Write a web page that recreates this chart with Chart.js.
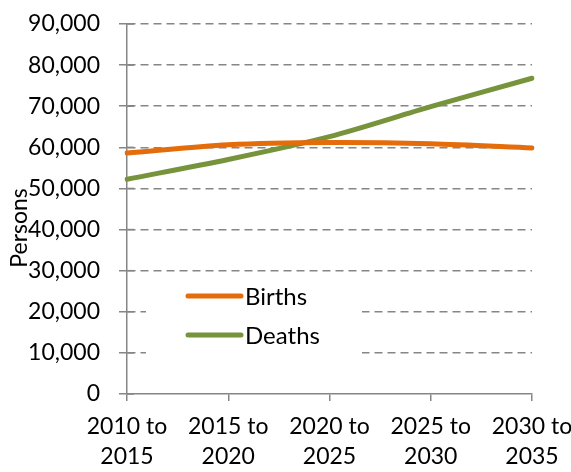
<!DOCTYPE html>
<html>
<head>
<meta charset="utf-8">
<script src="https://cdn.jsdelivr.net/npm/chart.js@4.4.1/dist/chart.umd.min.js"></script>
<style>
  html, body { margin: 0; padding: 0; background: #fff; }
  #wrap { width: 571px; height: 472px; }
</style>
</head>
<body>
<div id="wrap"><canvas id="chart" width="571" height="472"></canvas></div>
<script>
var periods = [['2010 to', '2015'], ['2015 to', '2020'], ['2020 to', '2025'], ['2025 to', '2030'], ['2030 to', '2035']];
var births = [58600, 60600, 61150, 60850, 59850];
var deaths = [52250, 57050, 62600, 69900, 76800];
var yTicks = [0, 10000, 20000, 30000, 40000, 50000, 60000, 70000, 80000, 90000];

var FONT = 'Lato, "Open Sans", sans-serif';
var GREY = '#868686';

// legend sits inside the plot, on a white patch that hides the grid
var insideLegend = {
  id: 'insideLegend',
  beforeDatasetsDraw: function(chart) {
    var ctx = chart.ctx;
    var y0 = chart.scales.y;
    ctx.save();
    ctx.fillStyle = '#fff';
    ctx.fillRect(146, 277, 216, 82);
    // short right half of the crossing y ticks
    ctx.strokeStyle = GREY;
    ctx.lineWidth = 1.5;
    yTicks.forEach(function(v) {
      var py = y0.getPixelForValue(v);
      ctx.beginPath();
      ctx.moveTo(chart.chartArea.left, py);
      ctx.lineTo(chart.chartArea.left + 7, py);
      ctx.stroke();
    });
    chart.data.datasets.forEach(function(ds, i) {
      var y = 296 + i * 39;
      ctx.strokeStyle = ds.borderColor;
      ctx.lineWidth = 5;
      ctx.lineCap = 'round';
      ctx.beginPath();
      ctx.moveTo(188, y);
      ctx.lineTo(241, y);
      ctx.stroke();
      ctx.fillStyle = '#000';
      ctx.font = '24px ' + FONT;
      ctx.textBaseline = 'middle';
      ctx.textAlign = 'left';
      ctx.fillText(ds.label, 245, y + 1);
    });
    ctx.restore();
  },
  afterDraw: function(chart) {
    // axis title, placed a little below centre
    var ctx = chart.ctx;
    ctx.save();
    ctx.translate(27, 228);
    ctx.rotate(-Math.PI / 2);
    ctx.fillStyle = '#000';
    ctx.font = '23px ' + FONT;
    ctx.textAlign = 'center';
    ctx.textBaseline = 'alphabetic';
    ctx.fillText('Persons', 0, 0);
    ctx.restore();
  }
};

var chart = new Chart(document.getElementById('chart'), {
  type: 'line',
  data: {
    labels: periods,
    datasets: [{
      label: 'Births',
      data: births,
      borderColor: '#E46C0A',
      backgroundColor: '#E46C0A',
      borderWidth: 5,
      pointRadius: 0,
      tension: 0.3,
      borderCapStyle: 'round'
    }, {
      label: 'Deaths',
      data: deaths,
      borderColor: '#77933C',
      backgroundColor: '#77933C',
      borderWidth: 5,
      pointRadius: 0,
      tension: 0.3,
      borderCapStyle: 'round'
    }]
  },
  options: {
    responsive: false,
    animation: false,
    layout: { padding: { top: 24, right: 39, left: 0, bottom: 0 } },
    plugins: {
      legend: { display: false },
      tooltip: { enabled: false }
    },
    scales: {
      x: {
        offset: false,
        grid: { drawOnChartArea: false, drawTicks: true, tickLength: 7, color: GREY, lineWidth: 1.5 },
        border: { color: GREY, width: 1.5 },
        ticks: {
          color: '#000',
          font: { family: FONT, size: 23, lineHeight: 1.3 },
          padding: 11,
          maxRotation: 0,
          autoSkip: false
        },
        afterFit: function(scale) {
          scale.height = 78;
          scale.paddingLeft = 0;
          scale.paddingRight = 0;
        }
      },
      y: {
        min: 0,
        max: 90000,
        afterBuildTicks: function(scale) {
          scale.ticks = yTicks.map(function(v) { return { value: v }; });
        },
        grid: {
          color: function(c) { return c.tick && c.tick.value === 0 ? 'rgba(0,0,0,0)' : GREY; },
          lineWidth: 1.5,
          tickLength: 8,
          tickColor: GREY,
          tickBorderDash: [1, 0]
        },
        border: { color: GREY, width: 1.5, dash: [8, 5] },
        ticks: {
          color: '#000',
          font: { family: FONT, size: 23 },
          padding: 19,
          callback: function(v) { return v.toLocaleString('en-US'); }
        },
        afterFit: function(scale) {
          scale.width = 127;
          scale.paddingTop = 0;
          scale.paddingBottom = 0;
        }
      }
    }
  },
  plugins: [insideLegend]
});
</script>
</body>
</html>
